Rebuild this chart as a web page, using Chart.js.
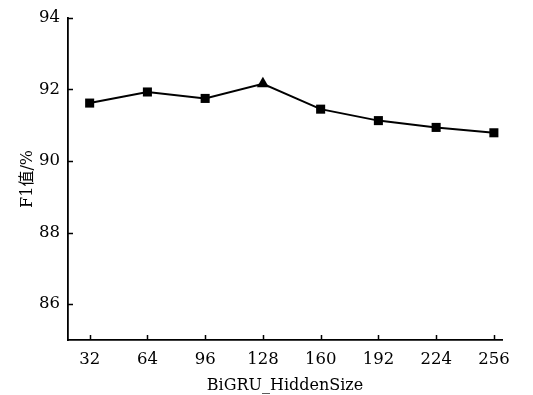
<!DOCTYPE html>
<html>
<head>
<meta charset="utf-8">
<script src="https://cdn.jsdelivr.net/npm/chart.js@4/dist/chart.umd.min.js"></script>
<style>
html,body{margin:0;padding:0;background:#fff;}
#wrap{width:533px;height:395px;position:relative;}
</style>
</head>
<body>
<div id="wrap"><canvas id="c" width="533" height="395"></canvas></div>
<script>
const hiddenSizes = [32, 64, 96, 128, 160, 192, 224, 256];
const f1Values = [91.62, 91.93, 91.75, 92.16, 91.45, 91.13, 90.94, 90.79];
const xTicks = [32, 64, 96, 128, 160, 192, 224, 256];
const yTicks = [86, 88, 90, 92, 94];
const bestIndex = 3;

const FONT = "'DejaVu Serif', 'Noto Sans CJK SC', serif";

const innerTicks = {
  id: 'innerTicks',
  afterDraw(chart) {
    const ctx = chart.ctx;
    const xs = chart.scales.x, ys = chart.scales.y;
    const area = chart.chartArea;
    ctx.save();
    ctx.strokeStyle = '#000';
    ctx.lineWidth = 1.5;
    ctx.beginPath();
    xs.ticks.forEach(t => {
      const px = Math.round(xs.getPixelForValue(t.value)) + 0.5;
      ctx.moveTo(px, area.bottom);
      ctx.lineTo(px, area.bottom - 5);
    });
    ys.ticks.forEach(t => {
      const py = Math.round(ys.getPixelForValue(t.value)) + 0.5;
      ctx.moveTo(area.left, py);
      ctx.lineTo(area.left + 5, py);
    });
    ctx.stroke();
    ctx.restore();
  }
};

new Chart(document.getElementById('c'), {
  type: 'line',
  data: {
    datasets: [{
      data: hiddenSizes.map((x, i) => ({x: x, y: f1Values[i]})),
      borderColor: '#000',
      backgroundColor: '#000',
      borderWidth: 2,
      pointStyle: hiddenSizes.map((x, i) => i === bestIndex ? 'triangle' : 'rect'),
      pointRadius: hiddenSizes.map((x, i) => i === bestIndex ? 7 : 6.4),
      pointBorderWidth: 0,
      pointBackgroundColor: '#000',
      tension: 0
    }]
  },
  options: {
    responsive: false,
    animation: false,
    layout: {padding: {left: 0, right: 31, top: 16, bottom: 0}},
    plugins: {legend: {display: false}, tooltip: {enabled: false}},
    scales: {
      x: {
        type: 'linear',
        min: 20,
        max: 260.5,
        afterBuildTicks(scale) { scale.ticks = xTicks.map(v => ({value: v})); },
        afterFit(scale) { scale.height = 55; },
        grid: {display: false, drawTicks: false},
        border: {display: true, color: '#000', width: 1.8},
        ticks: {
          color: '#000', padding: 10, maxRotation: 0,
          font: {family: FONT, size: 16.5},
          callback: v => String(v)
        },
        title: {
          display: true, text: 'BiGRU_HiddenSize', color: '#000',
          font: {family: FONT, size: 16}, padding: {top: 0, bottom: 0}
        }
      },
      y: {
        type: 'linear',
        min: 85,
        max: 94,
        afterBuildTicks(scale) { scale.ticks = yTicks.map(v => ({value: v})); },
        afterFit(scale) { scale.width = 68; },
        grid: {display: false, drawTicks: false},
        border: {display: true, color: '#000', width: 1.8},
        ticks: {
          color: '#000', padding: 8,
          font: {family: FONT, size: 16.5},
          callback: v => String(v)
        },
        title: {
          display: true, text: 'F1值/%', color: '#000',
          font: {family: FONT, size: 16}, padding: {top: 18, bottom: 4}
        }
      }
    }
  },
  plugins: [innerTicks]
});
</script>
</body>
</html>
